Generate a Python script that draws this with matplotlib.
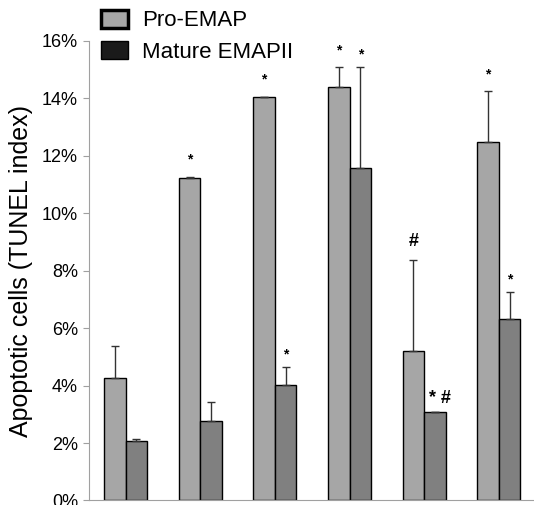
import numpy as np
import matplotlib.pyplot as plt
from matplotlib.patches import Patch

plt.rcParams['font.family'] = ['Liberation Sans', 'DejaVu Sans']

# valores (% de celulas apoptoticas)
pro_emap = [4.28, 11.24, 14.06, 14.38, 5.20, 12.47]
pro_err = [1.11, 0.03, 0.0, 0.70, 3.16, 1.77]
mature = [2.06, 2.75, 4.02, 11.58, 3.07, 6.33]
mature_err = [0.09, 0.68, 0.62, 3.50, 0.0, 0.93]
pro_marks = ["", "*", "*", "*", "#", "*"]
mature_marks = ["", "", "*", "*", "* #", "*"]

light = "#a6a6a6"
dark = "#808080"

fig = plt.figure(figsize=(5.34, 5.05), dpi=100)
ax = fig.add_axes([0.1667, 0.009, 0.8333, 0.910])

x = np.arange(len(pro_emap))
w = 0.288
ax.bar(x - w / 2, pro_emap, w, color=light, edgecolor="black", linewidth=1.0,
       yerr=[np.zeros(len(pro_err)), pro_err], capsize=3,
       error_kw=dict(ecolor="#333333", elinewidth=1.0, capthick=1.0))
ax.bar(x + w / 2, mature, w, color=dark, edgecolor="black", linewidth=1.0,
       yerr=[np.zeros(len(mature_err)), mature_err], capsize=3,
       error_kw=dict(ecolor="#333333", elinewidth=1.0, capthick=1.0))

# marcas de significancia
for i in range(len(x)):
    if pro_marks[i]:
        fs = 13 if pro_marks[i] == "#" else 10
        ax.text(x[i] - w / 2, pro_emap[i] + pro_err[i] + 0.35, pro_marks[i],
                ha="center", va="bottom", fontsize=fs, fontweight="bold")
    if mature_marks[i]:
        fs = 10 if mature_marks[i] == "*" else 13
        ax.text(x[i] + w / 2 + (0.06 if fs == 13 else 0), mature[i] + mature_err[i] + 0.2,
                mature_marks[i], ha="center", va="bottom", fontsize=fs, fontweight="bold")

ax.set_xlim(-0.49, 5.47)
ax.set_ylim(0, 16)
ax.set_yticks(np.arange(0, 17, 2))
ax.set_yticklabels([f"{v}%" for v in range(0, 17, 2)], fontsize=13)
ax.set_xticks([])
ax.spines["top"].set_visible(False)
ax.spines["right"].set_visible(False)
ax.spines["left"].set_color("#a0a0a0")
ax.spines["bottom"].set_color("#a0a0a0")
ax.tick_params(axis="y", colors="#a0a0a0", labelcolor="black", length=4, pad=4)
ax.set_ylabel("Apoptotic cells (TUNEL index)", fontsize=18, labelpad=6)

handles = [Patch(facecolor=light, edgecolor="black", linewidth=2.5),
           Patch(facecolor="#1a1a1a", edgecolor="black", linewidth=1)]
fig.legend(handles, ["Pro-EMAP", "Mature EMAPII"], loc="upper left",
           bbox_to_anchor=(0.152, 1.02), frameon=False, fontsize=16,
           handlelength=1.2, handleheight=0.85, labelspacing=0.45, handletextpad=0.65)

fig.savefig("out.png", dpi=100)
